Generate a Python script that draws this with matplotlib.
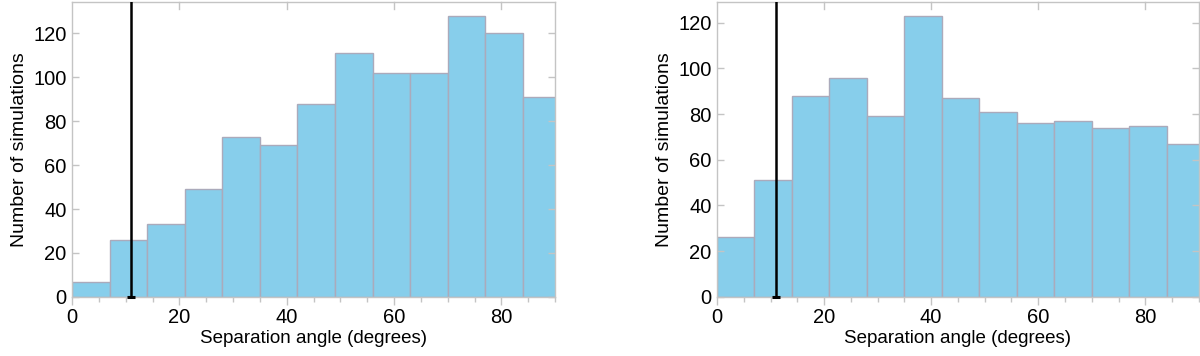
import numpy as np
from matplotlib import pyplot as plt
from matplotlib.ticker import MultipleLocator

plt.rcParams['font.family'] = ['Liberation Sans', 'DejaVu Sans']

# histogram bins (degrees), width 7
bin_edges = [0, 7, 14, 21, 28, 35, 42, 49, 56, 63, 70, 77, 84, 91]

counts_left = [7, 26, 33, 49, 73, 69, 88, 111, 102, 102, 128, 120, 91]
counts_right = [26, 51, 88, 96, 79, 123, 87, 81, 76, 77, 74, 75, 67]

marker_angle = 11

frame_col = '#c4c4c4'
bar_col = '#87ceeb'
edge_col = '#abaabb'

fig = plt.figure(figsize=(12, 3.56), dpi=100)
ax1 = fig.add_axes([0.06, 0.166, 0.4025, 0.829])
ax2 = fig.add_axes([0.5975, 0.166, 0.4015, 0.829])

for ax, counts in [(ax1, counts_left), (ax2, counts_right)]:
    edges = np.array(bin_edges)
    ax.bar(edges[:-1], counts, width=np.diff(edges), align='edge',
           color=bar_col, edgecolor=edge_col, linewidth=1)
    top = max(counts) * 1.05
    ax.set_xlim(0, 90)
    ax.set_ylim(0, top)
    ax.axvline(marker_angle, color='k', lw=1.8, zorder=5)
    ax.plot([marker_angle], [0], marker='_', ms=6, mew=2.2, color='k',
            clip_on=False, zorder=6)

    for sp in ax.spines.values():
        sp.set_color(frame_col)
        sp.set_linewidth(1)

    ax.xaxis.set_major_locator(MultipleLocator(20))
    ax.xaxis.set_minor_locator(MultipleLocator(5))
    ax.yaxis.set_major_locator(MultipleLocator(20))
    ax.tick_params(axis='x', which='both', bottom=True, top=False,
                   direction='out', color=frame_col, labelsize=14.5)
    ax.tick_params(axis='x', which='major', length=6, width=1, pad=2)
    ax.tick_params(axis='x', which='minor', length=3.5, width=1)
    ax.tick_params(axis='y', which='major', left=True, right=True,
                   direction='in', length=5, width=1, color=frame_col,
                   labelsize=14.5, pad=4)
    ax.set_xlabel('Separation angle (degrees)', fontsize=13.5, labelpad=2)
    ax.set_ylabel('Number of simulations', fontsize=14, labelpad=4)

    # inward major ticks on top edge
    for xv in [20, 40, 60, 80]:
        ax.plot([xv, xv], [top, top * 0.975], color=frame_col, lw=1,
                clip_on=False)

fig.savefig('out.png', dpi=100)
